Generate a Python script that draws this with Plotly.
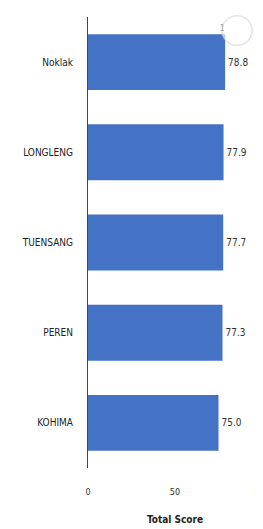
import plotly.graph_objects as go

districts = ["Noklak", "LONGLENG", "TUENSANG", "PEREN", "KOHIMA"]
total_scores = [78.8, 77.9, 77.7, 77.3, 75.0]
score_labels = ["78.8", "77.9", "77.7", "77.3", "75.0"]
x_ticks = [0, 50, 100]

font_family = "DejaVu Sans Condensed, Liberation Sans Narrow, Arial Narrow, sans-serif"

fig = go.Figure(
    go.Bar(
        x=total_scores,
        y=districts,
        orientation="h",
        marker=dict(color="#4472C4", line=dict(width=0)),
        text=score_labels,
        textposition="outside",
        cliponaxis=False,
        textfont=dict(size=10, color="#333333", family=font_family),
    )
)

# the page body adds an 8px offset, so the figure is sized to the remaining window
fig.update_layout(
    width=255,
    height=521,
    margin=dict(l=80, r=1, t=9, b=61, autoexpand=False),
    paper_bgcolor="white",
    plot_bgcolor="white",
    bargap=0.38,
    showlegend=False,
    font=dict(family=font_family, size=10, color="#333333"),
)

fig.update_xaxes(
    range=[0, 100],
    tickvals=x_ticks,
    ticktext=[str(t) for t in x_ticks],
    showgrid=False,
    zeroline=False,
    showline=False,
    ticks="",
    automargin=False,
    ticklabeloverflow="allow",
    ticklabelstandoff=17,
    tickfont=dict(size=9, color="#333333"),
    title=dict(text="<b>Total Score</b>", font=dict(size=10, color="#222222"), standoff=19),
)

fig.update_yaxes(
    categoryorder="array",
    categoryarray=districts[::-1],
    showgrid=False,
    zeroline=False,
    showline=True,
    linecolor="#444444",
    linewidth=1,
    ticks="",
    automargin=False,
    ticklabelstandoff=12,
    tickfont=dict(size=10, color="#222222"),
)

fig.add_shape(
    type="circle",
    xref="paper", yref="paper",
    x0=0.77, x1=0.943, y0=0.937, y1=1.003,
    line=dict(color="rgba(210,210,210,0.6)", width=1.5),
    fillcolor="rgba(255,255,255,0.6)",
)
fig.add_annotation(
    xref="paper", yref="paper", x=0.80, y=0.99,
    text="1", showarrow=False,
    font=dict(size=8, color="#999999"),
)

fig.write_html("out.html")
